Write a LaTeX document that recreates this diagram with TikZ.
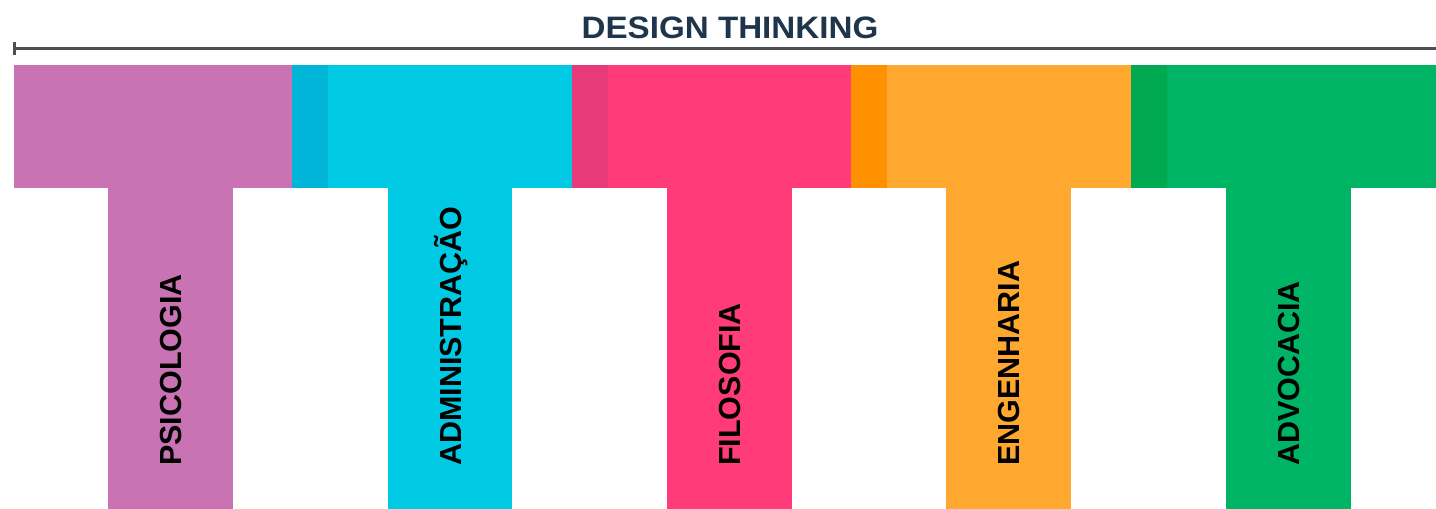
\documentclass[tikz,border=0pt]{standalone}
\usepackage{fontspec}
\setmainfont{Liberation Sans}
\definecolor{pk}{HTML}{C973B4}
\definecolor{cy}{HTML}{00C9E4}
\definecolor{cyd}{HTML}{00B5D8}
\definecolor{rd}{HTML}{FF3B7A}
\definecolor{rdd}{HTML}{E83A78}
\definecolor{og}{HTML}{FFA830}
\definecolor{ogd}{HTML}{FF9100}
\definecolor{gn}{HTML}{00B466}
\definecolor{gnd}{HTML}{00A94F}
\definecolor{ttl}{HTML}{1E354C}
\definecolor{ln}{HTML}{4A5058}
\tikzset{
  lbl/.style={rotate=90,anchor=base west,inner sep=0pt,font=\bfseries\fontsize{30.5}{30}\selectfont,text=black},
  axis/.style={draw=ln,line width=2.5pt}
}
\begin{document}
\begin{tikzpicture}[x=1pt,y=-1pt]
\useasboundingbox (0,0) rectangle (1436,509);
% title and line
\node[font=\bfseries\fontsize{31}{31}\selectfont,text=ttl,anchor=base,inner sep=0pt,xscale=1.07] (title) at (730,38) {DESIGN THINKING};
\coordinate (l0) at (14.5,48.5);
\coordinate (l1) at (1436,48.5);
\draw[axis] (l0) -- (l1);
\draw[draw=ln,line width=3pt] (14.5,42) -- (14.5,55);
% pink
\fill[pk] (14,65) rectangle (292,188);
\fill[pk] (108,188) rectangle (233,509);
% cyan
\fill[cy] (292,65) rectangle (572,188);
\fill[cyd] (292,65) rectangle (328,188);
\fill[cy] (388,187) rectangle (512,509);
% red
\fill[rd] (572,65) rectangle (851,188);
\fill[rdd] (572,65) rectangle (608,188);
\fill[rd] (667,187) rectangle (792,509);
% orange
\fill[og] (851,65) rectangle (1131,188);
\fill[ogd] (851,65) rectangle (887,188);
\fill[og] (946,187) rectangle (1071,509);
% green
\fill[gn] (1131,65) rectangle (1436,188);
\fill[gnd] (1131,65) rectangle (1167,188);
\fill[gn] (1226,187) rectangle (1351,509);
% labels
\node[lbl] (psi) at (181.5,466) {PSICOLOGIA};
\node[lbl] (adm) at (461,466) {ADMINISTRAÇÃO};
\node[lbl] (fil) at (740.5,466) {FILOSOFIA};
\node[lbl] (eng) at (1019.5,466) {ENGENHARIA};
\node[lbl] (adv) at (1299.5,466) {ADVOCACIA};
\end{tikzpicture}
\end{document}
